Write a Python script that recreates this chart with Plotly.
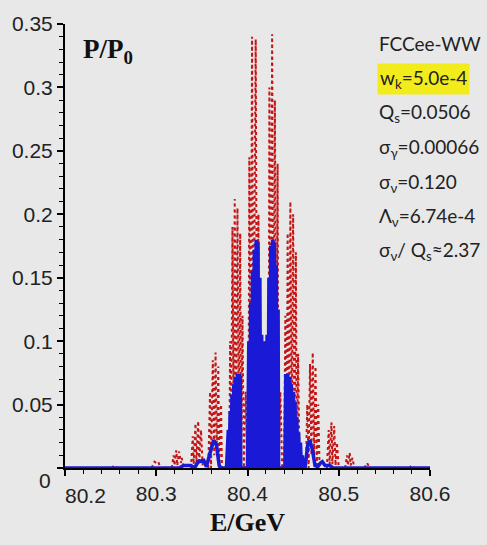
import plotly.graph_objects as go

# ---------------- data ----------------
energy_blue = [80.200, 80.325, 80.330, 80.338, 80.342, 80.346, 80.352, 80.355, 80.359, 80.363,
               80.366, 80.369, 80.371, 80.377,
               80.379, 80.380, 80.381, 80.382, 80.383, 80.384, 80.385, 80.386, 80.387, 80.388,
               80.389, 80.390, 80.391, 80.392, 80.3925, 80.400,
               80.4015, 80.4025, 80.4035, 80.4045, 80.4055, 80.4065, 80.4075, 80.4085, 80.4095, 80.4105,
               80.4115, 80.4125, 80.4135, 80.4145,
               80.4155, 80.4165, 80.4175, 80.4185, 80.4195, 80.4205, 80.4215, 80.4225,
               80.4235, 80.4245, 80.4255, 80.4265, 80.4275, 80.4285, 80.4295, 80.4305, 80.4315, 80.4325,
               80.4335, 80.434, 80.441,
               80.442, 80.443, 80.444, 80.445, 80.446, 80.447, 80.448, 80.449, 80.450, 80.451,
               80.452, 80.453, 80.454, 80.455, 80.456, 80.457, 80.458, 80.459, 80.460, 80.461,
               80.463, 80.466, 80.468, 80.471, 80.474, 80.477, 80.480, 80.482, 80.485, 80.490,
               80.494, 80.600]
p_blue = [0.0, 0.0, 0.002, 0.002, 0.0, 0.005, 0.006, 0.001, 0.012, 0.022,
          0.018, 0.002, 0.0, 0.0,
          0.030, 0.0, 0.045, 0.0, 0.058, 0.0, 0.066, 0.0, 0.072, 0.0,
          0.074, 0.0, 0.074, 0.070, 0.0, 0.0,
          0.100, 0.0, 0.130, 0.0, 0.155, 0.0, 0.172, 0.0, 0.180, 0.0,
          0.178, 0.0, 0.150, 0.0,
          0.105, 0.0, 0.100, 0.0, 0.100, 0.0, 0.105, 0.0,
          0.150, 0.0, 0.175, 0.0, 0.180, 0.0, 0.178, 0.0, 0.160, 0.0,
          0.125, 0.0, 0.0,
          0.074, 0.0, 0.074, 0.0, 0.072, 0.0, 0.066, 0.0, 0.060, 0.0,
          0.052, 0.0, 0.040, 0.0, 0.028, 0.0, 0.020, 0.0, 0.010, 0.0,
          0.0, 0.018, 0.022, 0.015, 0.002, 0.001, 0.004, 0.005, 0.002, 0.002,
          0.0, 0.0]

# red dotted curve; None separates the resonance groups
energy_red = [80.251, 80.254, 80.258, None,
              80.295, 80.298, 80.300, 80.302, 80.305, None,
              80.317, 80.319, 80.320, 80.322, 80.323, 80.325, 80.327, 80.328, 80.330, None,
              80.338, 80.340, 80.341, 80.343, 80.344, 80.346, 80.347, 80.349, 80.351, None,
              80.357, 80.359, 80.360, 80.362, 80.3635, 80.365, 80.3665, 80.368, 80.369, 80.371, 80.372, None,
              80.380, 80.381, 80.382, 80.3835, 80.385, 80.386, 80.3875, 80.389, 80.3905, 80.392,
              80.393, 80.3945, 80.396, 80.398, 80.400,
              80.401, 80.402, 80.4035, 80.405, 80.4065, 80.409, 80.4105, 80.412, 80.413,
              80.414, 80.415, 80.416, 80.417, 80.418, 80.419, 80.420, 80.421, 80.422, 80.423,
              80.424, 80.4255, 80.427, 80.4285, 80.430, 80.4315, 80.433, 80.434,
              80.436, 80.438, 80.440,
              80.4415, 80.443, 80.444, 80.4455, 80.447, 80.4485, 80.450, 80.4515, 80.453, 80.454,
              80.4555, 80.457, None,
              80.464, 80.4655, 80.467, 80.4685, 80.470, 80.4715, 80.473, 80.4745, 80.476, 80.4775, 80.479, None,
              80.487, 80.489, 80.490, 80.492, 80.493, 80.495, 80.4965, 80.498, 80.500, None,
              80.507, 80.509, 80.510, 80.512, 80.513, 80.515, 80.517, None,
              80.528, 80.531, 80.534, None,
              80.577, 80.580, 80.583]
p_red = [0.0, 0.002, 0.0, None,
         0.0, 0.005, 0.004, 0.005, 0.0, None,
         0.0, 0.010, 0.002, 0.014, 0.002, 0.013, 0.004, 0.008, 0.0, None,
         0.0, 0.025, 0.003, 0.035, 0.003, 0.037, 0.003, 0.030, 0.0, None,
         0.0, 0.060, 0.0, 0.085, 0.010, 0.091, 0.010, 0.080, 0.0, 0.050, 0.0, None,
         0.0, 0.100, 0.0, 0.190, 0.010, 0.212, 0.020, 0.205, 0.020, 0.185,
         0.0, 0.120, 0.0, 0.060, 0.0,
         0.0, 0.245, 0.020, 0.340, 0.050, 0.338, 0.030, 0.200, 0.0,
         0.090, 0.0, 0.100, 0.0, 0.095, 0.0, 0.100, 0.0, 0.090, 0.0,
         0.300, 0.030, 0.342, 0.040, 0.290, 0.020, 0.240, 0.0,
         0.060, 0.0, 0.0,
         0.120, 0.0, 0.185, 0.020, 0.210, 0.020, 0.200, 0.010, 0.170, 0.0,
         0.090, 0.0, None,
         0.0, 0.050, 0.0, 0.082, 0.010, 0.091, 0.010, 0.080, 0.0, 0.050, 0.0, None,
         0.0, 0.030, 0.003, 0.036, 0.003, 0.033, 0.002, 0.020, 0.0, None,
         0.0, 0.010, 0.002, 0.012, 0.002, 0.008, 0.0, None,
         0.0, 0.004, 0.0, None,
         0.0, 0.002, 0.0]

x_tick_vals = [80.2, 80.3, 80.4, 80.5, 80.6]
x_tick_text = ["", "80.3", "80.4", "80.5", "80.6"]
y_tick_vals = [0, 0.05, 0.1, 0.15, 0.2, 0.25, 0.3, 0.35]
y_tick_text = ["", "0.05", "0.1", "0.15", "0.2", "0.25", "0.3", "0.35"]

param_lines = ["FCCee-WW",
               "w<sub>k</sub>=5.0e-4",
               "Q<sub>s</sub>=0.0506",
               "σ<sub>γ</sub>=0.00066",
               "σ<sub>ν</sub>=0.120",
               "Λ<sub>ν</sub>=6.74e-4",
               "σ<sub>ν</sub>/ Q<sub>s</sub>≈2.37"]

# ---------------- figure ----------------
BG = "#e8e8e8"
TICK_FONT = dict(family="Liberation Sans", size=21, color="#222222")

fig = go.Figure()
fig.add_trace(go.Scatter(x=energy_red, y=p_red, mode="lines", connectgaps=False,
                         line=dict(color="#c41414", width=2, dash="dot", simplify=False),
                         showlegend=False, hoverinfo="skip"))
fig.add_trace(go.Scatter(x=energy_blue, y=p_blue, mode="lines",
                         line=dict(color="#1a1ad6", width=3.6, simplify=False),
                         showlegend=False, hoverinfo="skip"))

L, R, T, B = 63, 57, 20, 77
W, H = 487, 545
pw, ph = W - L - R, H - T - B

def px(xp):
    return (xp - L) / pw

def py(yp):
    return (T + ph - yp) / ph

fig.update_layout(
    width=W, height=H,
    margin=dict(l=L, r=R, t=T, b=B, pad=0),
    paper_bgcolor=BG, plot_bgcolor=BG,
    xaxis=dict(range=[80.2, 80.6], tickvals=x_tick_vals, ticktext=x_tick_text,
               ticks="outside", ticklen=6, tickwidth=1.5, tickcolor="black",
               showline=True, linecolor="black", linewidth=2,
               showgrid=False, zeroline=False, tickfont=TICK_FONT,
               minor=dict(ticks="outside", ticklen=4, tickwidth=1.2, tickcolor="black",
                          dtick=0.02, tick0=80.2, showgrid=False)),
    yaxis=dict(range=[0, 0.35001], tickvals=y_tick_vals, ticktext=y_tick_text,
               ticks="outside", ticklen=6, tickwidth=1.5, tickcolor="black",
               showline=True, linecolor="black", linewidth=2,
               showgrid=False, zeroline=False, tickfont=TICK_FONT,
               minor=dict(ticks="outside", ticklen=4, tickwidth=1.2, tickcolor="black",
                          dtick=0.01, tick0=0, showgrid=False)),
)

ann = []
# shifted corner labels
ann.append(dict(x=px(43), y=py(481), xref="paper", yref="paper", text="0", showarrow=False,
                font=TICK_FONT, xanchor="center", yanchor="middle"))
ann.append(dict(x=px(84), y=py(496), xref="paper", yref="paper", text="80.2", showarrow=False,
                font=TICK_FONT, xanchor="center", yanchor="middle"))
# axis titles
ann.append(dict(x=px(247), y=py(523), xref="paper", yref="paper", text="<b>E/GeV</b>",
                showarrow=False, xanchor="center", yanchor="middle",
                font=dict(family="Liberation Serif", size=26, color="#111111")))
ann.append(dict(x=px(79), y=py(47), xref="paper", yref="paper", text="<b>P/P<sub>0</sub></b>",
                showarrow=False, xanchor="left", yanchor="middle",
                font=dict(family="Liberation Serif", size=27, color="#111111")))
# parameter text
line_y = [40, 75, 110, 145, 180, 215, 249]
for i, (t, yy) in enumerate(zip(param_lines, line_y)):
    a = dict(x=px(377), y=py(yy), xref="paper", yref="paper", text=t, showarrow=False,
             xanchor="left", yanchor="middle",
             font=dict(family="Lato", size=19, color="#222222"))
    if i == 1:
        a.update(bgcolor="#f3ec1c", borderpad=2)
    ann.append(a)

fig.update_layout(annotations=ann)
fig.write_html("out.html")
